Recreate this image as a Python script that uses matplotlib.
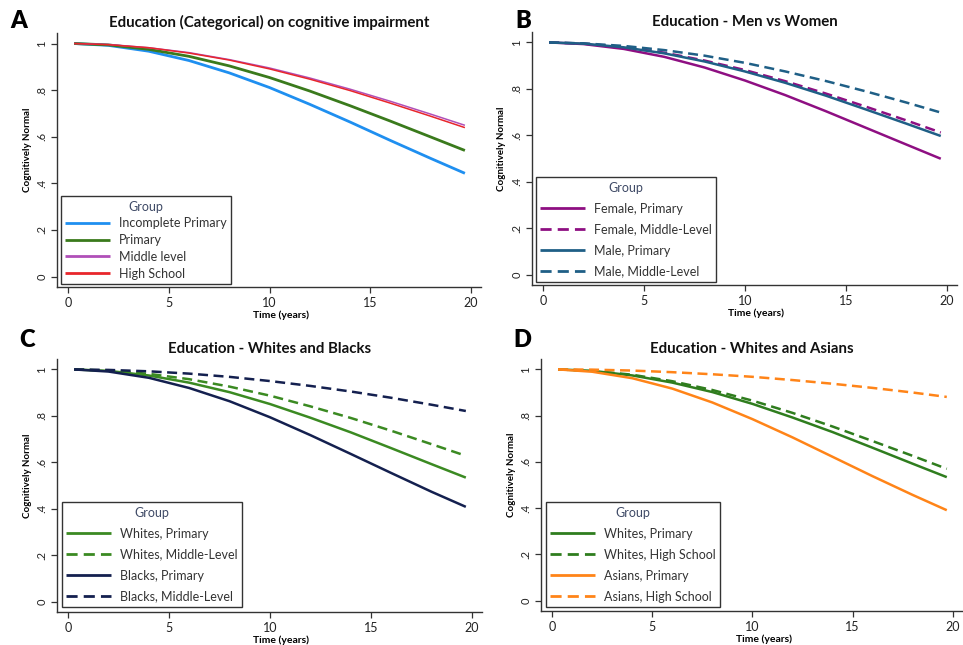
import matplotlib
matplotlib.use("Agg")
import matplotlib.pyplot as plt

# ---------------- data ----------------
time_years = [0.3, 2, 4, 6, 8, 10, 12, 14, 16, 18, 19.7]

# Panel A
a_labels = ["Incomplete Primary", "Primary", "Middle level", "High School"]
a_incomplete_primary = [1.000, 0.992, 0.967, 0.927, 0.874, 0.811, 0.739, 0.663, 0.584, 0.507, 0.443]
a_primary = [1.000, 0.994, 0.975, 0.945, 0.904, 0.854, 0.796, 0.733, 0.667, 0.599, 0.541]
a_middle_level = [1.000, 0.996, 0.982, 0.961, 0.931, 0.895, 0.852, 0.804, 0.752, 0.697, 0.649]
a_high_school = [1.000, 0.995, 0.982, 0.959, 0.929, 0.891, 0.847, 0.798, 0.744, 0.688, 0.639]

# Panel B
b_labels = ["Female, Primary", "Female, Middle-Level", "Male, Primary", "Male, Middle-Level"]
b_female_primary = [1.000, 0.993, 0.972, 0.938, 0.892, 0.836, 0.773, 0.704, 0.632, 0.560, 0.499]
b_female_middle = [1.000, 0.995, 0.980, 0.956, 0.922, 0.881, 0.833, 0.780, 0.723, 0.664, 0.612]
b_male_primary = [1.000, 0.995, 0.979, 0.953, 0.918, 0.875, 0.826, 0.771, 0.711, 0.650, 0.597]
b_male_middle = [1.000, 0.996, 0.985, 0.967, 0.943, 0.912, 0.875, 0.834, 0.789, 0.741, 0.698]

# Panel C
c_labels = ["Whites, Primary", "Whites, Middle-Level", "Blacks, Primary", "Blacks, Middle-Level"]
c_whites_primary = [1.000, 0.994, 0.974, 0.943, 0.902, 0.851, 0.792, 0.729, 0.661, 0.592, 0.534]
c_whites_middle = [1.000, 0.995, 0.981, 0.958, 0.926, 0.887, 0.841, 0.791, 0.736, 0.678, 0.628]
c_blacks_primary = [1.000, 0.991, 0.964, 0.920, 0.863, 0.794, 0.717, 0.636, 0.554, 0.473, 0.408]
c_blacks_middle = [1.000, 0.998, 0.992, 0.982, 0.968, 0.950, 0.929, 0.905, 0.878, 0.848, 0.821]

# Panel D
d_labels = ["Whites, Primary", "Whites, High School", "Asians, Primary", "Asians, High School"]
d_whites_primary = [1.000, 0.994, 0.974, 0.943, 0.902, 0.851, 0.792, 0.729, 0.661, 0.592, 0.534]
d_whites_high = [1.000, 0.994, 0.977, 0.949, 0.911, 0.865, 0.812, 0.753, 0.690, 0.626, 0.570]
d_asians_primary = [1.000, 0.990, 0.962, 0.917, 0.857, 0.785, 0.706, 0.622, 0.538, 0.457, 0.391]
d_asians_high = [1.000, 0.999, 0.995, 0.988, 0.979, 0.968, 0.954, 0.938, 0.920, 0.900, 0.881]

titles = ["Education (Categorical) on cognitive impairment",
          "Education - Men vs Women",
          "Education - Whites and Blacks",
          "Education - Whites and Asians"]
letters = ["A", "B", "C", "D"]

x_ticks = [0, 5, 10, 15, 20]
y_ticks = [0, 0.2, 0.4, 0.6, 0.8, 1.0]
y_ticklabels = ["0", ".2", ".4", ".6", ".8", "1"]

# ---------------- styles ----------------
FONT = "Lato"
plt.rcParams["font.family"] = [FONT, "DejaVu Sans"]

panels = [
    dict(series=[a_incomplete_primary, a_primary, a_middle_level, a_high_school], labels=a_labels,
         colors=["#1f8ff0", "#3a7a1c", "#b04fb8", "#e8262b"],
         styles=["-", "-", "-", "-"], widths=[2.0, 2.0, 1.1, 1.1],
         pos=[0.0592, 0.555, 0.4403, 0.3938], leg=(0.009, 0.012), spacing=0.38,
         letter=(10, 28)),
    dict(series=[b_female_primary, b_female_middle, b_male_primary, b_male_middle], labels=b_labels,
         colors=["#8e0f82", "#8e0f82", "#1f5f86", "#1f5f86"],
         styles=["-", "--", "-", "--"], widths=[1.8] * 4,
         pos=[0.5524, 0.5581, 0.4413, 0.3923], leg=(0.009, 0.012), spacing=0.72,
         letter=(515, 28)),
    dict(series=[c_whites_primary, c_whites_middle, c_blacks_primary, c_blacks_middle], labels=c_labels,
         colors=["#3b8a22", "#3b8a22", "#14204f", "#14204f"],
         styles=["-", "--", "-", "--"], widths=[1.8] * 4,
         pos=[0.0592, 0.0512, 0.4413, 0.3922], leg=(0.012, 0.02), spacing=0.72,
         letter=(19, 347)),
    dict(series=[d_whites_primary, d_whites_high, d_asians_primary, d_asians_high], labels=d_labels,
         colors=["#2f7d1e", "#2f7d1e", "#ff8418", "#ff8418"],
         styles=["-", "--", "-", "--"], widths=[1.8] * 4,
         pos=[0.5618, 0.0527, 0.438, 0.3907], leg=(0.012, 0.016), spacing=0.72,
         letter=(513, 347)),
]

W, H = 963, 645
fig = plt.figure(figsize=(W / 100, H / 100), dpi=100)
fig.patch.set_facecolor("white")

for i, p in enumerate(panels):
    ax = fig.add_axes(p["pos"])
    for vals, lab, col, ls, lw in zip(p["series"], p["labels"], p["colors"], p["styles"], p["widths"]):
        line, = ax.plot(time_years, vals, color=col, linestyle=ls, linewidth=lw, label=lab,
                        solid_capstyle="butt", dash_capstyle="butt")
        if ls == "--":
            line.set_dashes((4.0, 2.2))
    ax.set_xlim(-0.55, 20.5)
    ax.set_ylim(-0.045, 1.045)
    ax.set_xticks(x_ticks)
    ax.set_xticklabels([str(t) for t in x_ticks], fontsize=9, color="#222222")
    ax.set_yticks(y_ticks)
    ax.set_yticklabels(y_ticklabels, fontsize=8, rotation=90, va="center", color="#222222")
    ax.tick_params(axis="both", direction="out", length=4, width=0.9, color="#333333", pad=3)
    for s in ["top", "right"]:
        ax.spines[s].set_visible(False)
    for s in ["left", "bottom"]:
        ax.spines[s].set_color("#333333")
        ax.spines[s].set_linewidth(1.0)
    ax.set_xlabel("Time (years)", fontsize=7.5, fontweight="bold")
    ax.xaxis.set_label_coords(0.528, -0.092)
    ax.set_ylabel("Cognitively Normal", fontsize=7, fontweight="bold")
    ax.yaxis.set_label_coords(-0.06, 0.54)
    ax.set_title(titles[i], fontsize=10.8, fontweight="bold", pad=4, color="#111111")
    lx, ly = p["letter"]
    fig.text(lx / W, 1 - ly / H, letters[i], fontsize=17, fontweight="heavy",
             ha="left", va="baseline", color="black")
    x0, y0 = p["leg"]
    leg = ax.legend(loc="lower left", bbox_to_anchor=(x0, y0), title="Group",
                    fontsize=9, title_fontsize=9, frameon=True, fancybox=False,
                    edgecolor="#333333", framealpha=1, borderpad=0.35,
                    handlelength=3.6, handletextpad=0.7, labelspacing=p["spacing"],
                    borderaxespad=0)
    leg.get_frame().set_linewidth(1.0)
    leg.get_title().set_color("#3f4a66")
    for t in leg.get_texts():
        t.set_color("#333333")
    for h in leg.get_lines():
        h.set_linewidth(2.0)

fig.savefig("out.png", dpi=100, facecolor="white")
